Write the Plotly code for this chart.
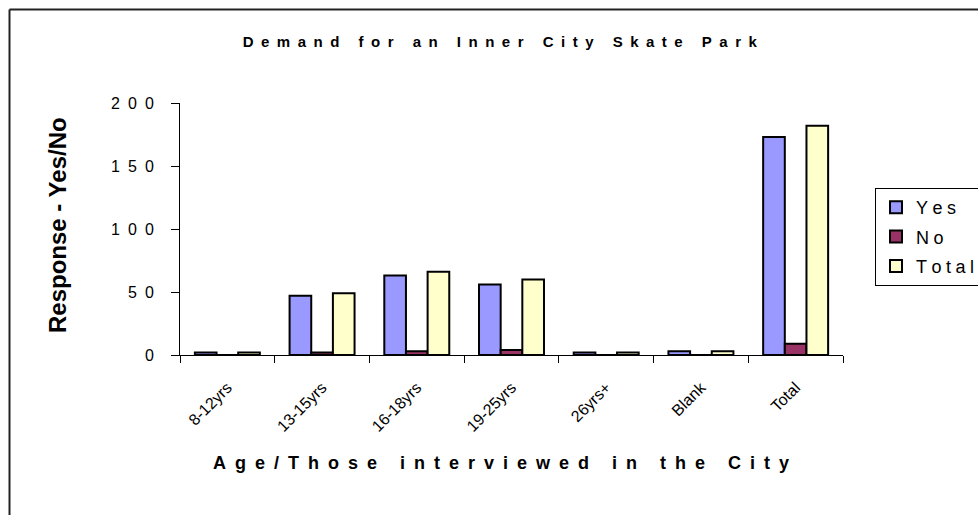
import plotly.graph_objects as go

categories = ["8-12yrs", "13-15yrs", "16-18yrs", "19-25yrs", "26yrs+", "Blank", "Total"]
yes_vals = [2, 47, 63, 56, 2, 3, 173]
no_vals = [0, 2, 3, 4, 0, 0, 9]
total_vals = [2, 49, 66, 60, 2, 3, 182]
y_ticks = [0, 50, 100, 150, 200]

series = [("Yes", yes_vals, "#9999FF"), ("No", no_vals, "#993366"), ("Total", total_vals, "#FFFFCC")]


def spaced(s, sep):
    return sep.join(list(s))


fig = go.Figure()
for i, (name, vals, col) in enumerate(series):
    fig.add_trace(go.Bar(
        x=categories, y=vals, name=spaced(name, "\u2005"),
        legendgroup=name,
        marker=dict(color=col, line=dict(color="black", width=2)),
    ))

L, R, T, B = 180, 135, 103, 160
W, H = 978, 515
pw, ph = W - L - R, H - T - B


def px(x):
    return (x - L) / pw


def py(y):
    return (H - B - y) / ph


fig.update_layout(
    width=W, height=H,
    margin=dict(l=L, r=R, t=T, b=B, autoexpand=False),
    paper_bgcolor="white", plot_bgcolor="white",
    barmode="group", bargap=0.314, bargroupgap=0,
    font=dict(family="Arial, Liberation Sans, sans-serif", color="black"),
    title=dict(text="<b>" + spaced("Demand for an Inner City Skate Park", "\u2002") + "</b>",
               x=0.511, xref="container", xanchor="center",
               y=1 - 42 / H, yref="container", yanchor="middle",
               font=dict(size=15, color="black")),
    legend=dict(x=px(875), y=py(188), xanchor="left", yanchor="top",
                bordercolor="black", borderwidth=1, bgcolor="white",
                font=dict(size=18), tracegroupgap=3),
    showlegend=True,
)

fig.update_xaxes(type="category", showline=True, linecolor="black", linewidth=1,
                 ticks="outside", ticklen=7, tickcolor="black", tickson="boundaries",
                 tickangle=-45, tickfont=dict(size=16), ticklabelstandoff=16,
                 showgrid=False, zeroline=False)
fig.update_yaxes(range=[0, 200], showline=True, linecolor="black", linewidth=1,
                 ticks="outside", ticklen=8, tickcolor="black",
                 tickvals=y_ticks, ticktext=[spaced(str(v), "\u2002") for v in y_ticks],
                 tickfont=dict(size=16), ticklabelstandoff=14,
                 showgrid=False, zeroline=False)

fig.add_annotation(text="<b>" + spaced("Age/Those interviewed in the City", "\u2002") + "</b>",
                   x=px(501), y=py(463), xref="paper", yref="paper",
                   showarrow=False, xanchor="center", yanchor="middle",
                   font=dict(size=18, color="black"))
fig.add_annotation(text="<b>Response - Yes/No</b>",
                   x=px(57), y=py(225), xref="paper", yref="paper", textangle=-90,
                   showarrow=False, xanchor="center", yanchor="middle",
                   font=dict(size=24, color="black"))

fig.add_shape(type="line", xref="paper", yref="paper",
              x0=px(9.5), x1=px(9.5), y0=py(9.5), y1=py(515),
              line=dict(color="#222", width=2))
fig.add_shape(type="line", xref="paper", yref="paper",
              x0=px(9.5), x1=px(980), y0=py(9.5), y1=py(9.5),
              line=dict(color="#222", width=2))

fig.write_html("out.html", config={"displayModeBar": False},
               post_script="document.body.style.margin='0';")
